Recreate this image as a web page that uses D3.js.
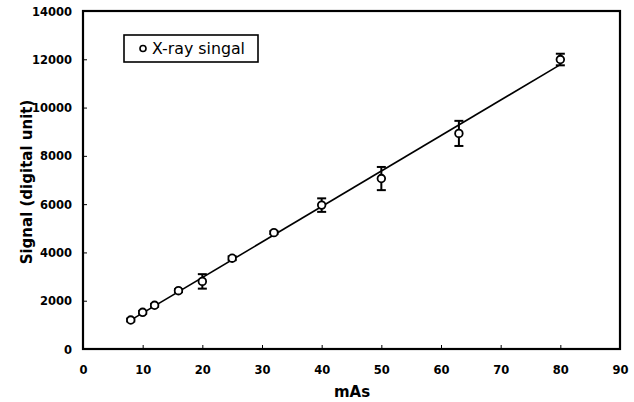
<!DOCTYPE html>
<html>
<head>
<meta charset="utf-8">
<script src="https://cdn.jsdelivr.net/npm/d3@7"></script>
<style>
  html, body { margin: 0; padding: 0; background: #fff; }
  svg { display: block; }
</style>
</head>
<body>
<script>
// ---- data ----
const mAs = [8, 10, 12, 16, 20, 25, 32, 40, 50, 63, 80];
const signal = [1200, 1520, 1810, 2415, 2800, 3760, 4820, 5960, 7060, 8930, 11990];
const signalErr = [60, 60, 60, 60, 300, 80, 60, 280, 480, 520, 240];
const fitX = [8, 80];
const fitY = [1196, 11780];
const xTicks = [0, 10, 20, 30, 40, 50, 60, 70, 80, 90];
const yTicks = [0, 2000, 4000, 6000, 8000, 10000, 12000, 14000];
const seriesName = "X-ray singal";
const xTitle = "mAs";
const yTitle = "Signal (digital unit)";

// ---- layout ----
const W = 634, H = 402;
const pL = 83, pR = 620, pT = 11, pB = 349;

const svg = d3.select("body").append("svg").attr("width", W).attr("height", H);

const x = d3.scaleLinear().domain([0, 90]).range([pL, pR]);
const y = d3.scaleLinear().domain([0, 14000]).range([pB, pT]);

const font = "'DejaVu Sans', sans-serif";
const fmt = d3.format("d");

// axes (ticks inward)
const xAxis = d3.axisBottom(x).tickValues(xTicks).tickFormat(fmt).tickSizeInner(-4).tickSizeOuter(0).tickPadding(16.5);
const yAxis = d3.axisLeft(y).tickValues(yTicks).tickFormat(fmt).tickSizeInner(-4).tickSizeOuter(0).tickPadding(11);

const gx = svg.append("g").attr("transform", `translate(0,${pB})`).call(xAxis);
const gy = svg.append("g").attr("transform", `translate(${pL},0)`).call(yAxis);
[gx, gy].forEach(g => {
  g.attr("font-family", null).attr("font-size", null);
  g.select(".domain").remove();
  g.selectAll(".tick line").attr("stroke", "#000").attr("stroke-width", 1);
  g.selectAll(".tick text").attr("fill", "#000").style("font-family", font)
    .style("font-weight", "bold").style("font-size", "11.5px");
});
gy.selectAll(".tick text").attr("dy", "0.36em");

// frame
svg.append("rect").attr("x", pL).attr("y", pT)
  .attr("width", pR - pL).attr("height", pB - pT)
  .attr("fill", "none").attr("stroke", "#000").attr("stroke-width", 2.2);

// fit line
const line = d3.line().x(d => x(d[0])).y(d => y(d[1]));
svg.append("path").datum(d3.zip(fitX, fitY)).attr("d", line)
  .attr("fill", "none").attr("stroke", "#000").attr("stroke-width", 1.6);

const pts = mAs.map((m, i) => ({ m, v: signal[i], e: signalErr[i] }));

// error bars
const eb = svg.append("g").attr("stroke", "#000").attr("stroke-width", 2);
pts.forEach(p => {
  const cx = x(p.m), y1 = y(p.v + p.e), y2 = y(p.v - p.e);
  eb.append("line").attr("x1", cx).attr("x2", cx).attr("y1", y1).attr("y2", y2);
  eb.append("line").attr("x1", cx - 4.5).attr("x2", cx + 4.5).attr("y1", y1).attr("y2", y1);
  eb.append("line").attr("x1", cx - 4.5).attr("x2", cx + 4.5).attr("y1", y2).attr("y2", y2);
});

// markers
svg.append("g").selectAll("circle").data(pts).join("circle")
  .attr("cx", d => x(d.m)).attr("cy", d => y(d.v)).attr("r", 3.8)
  .attr("fill", "#fff").attr("stroke", "#000").attr("stroke-width", 1.8);

// axis titles
svg.append("text").attr("x", (pL + pR) / 2 + 0.5).attr("y", 397)
  .attr("text-anchor", "middle").style("font-family", font)
  .style("font-weight", "bold").style("font-size", "15px").text(xTitle);
svg.append("text").attr("transform", `translate(32,${(pT + pB) / 2 + 2}) rotate(-90)`)
  .attr("text-anchor", "middle").style("font-family", font)
  .style("font-weight", "bold").style("font-size", "15px").text(yTitle);

// legend
const lg = svg.append("g");
lg.append("rect").attr("x", 124).attr("y", 35).attr("width", 134).attr("height", 27)
  .attr("fill", "#fff").attr("stroke", "#000").attr("stroke-width", 1.6);
lg.append("circle").attr("cx", 143).attr("cy", 48.5).attr("r", 3)
  .attr("fill", "#fff").attr("stroke", "#000").attr("stroke-width", 1.6);
lg.append("text").attr("x", 152).attr("y", 54).style("font-family", font)
  .style("font-size", "15.8px").text(seriesName);
</script>
</body>
</html>
